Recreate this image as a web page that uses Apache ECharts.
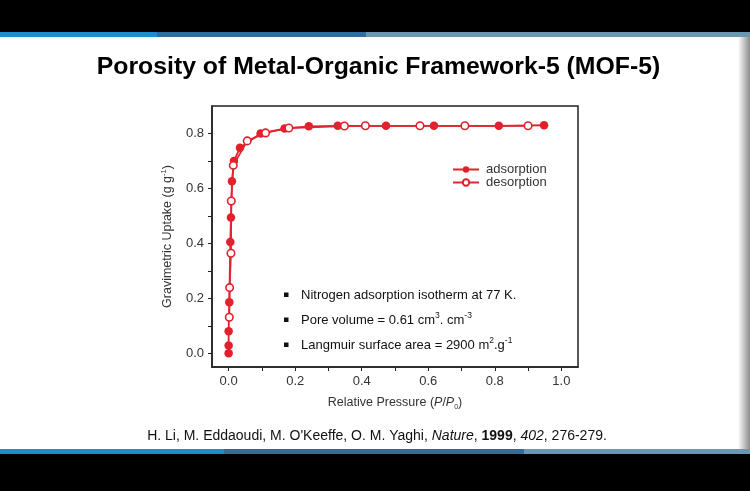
<!DOCTYPE html>
<html>
<head>
<meta charset="utf-8">
<script src="https://cdn.jsdelivr.net/npm/echarts@6/dist/echarts.min.js"></script>
<style>
  html, body { margin: 0; padding: 0; background: #000; }
  #wrap { position: relative; width: 750px; height: 491px; overflow: hidden; background: #000; }
  .bg { position: absolute; }
  #chart { position: absolute; left: 0; top: 0; width: 750px; height: 491px; }
</style>
</head>
<body>
<div id="wrap">
  <div class="bg" style="left:0;top:32px;width:157px;height:5px;background:#1b8ecb"></div>
  <div class="bg" style="left:157px;top:32px;width:209px;height:5px;background:#2e6e9e"></div>
  <div class="bg" style="left:366px;top:32px;width:384px;height:5px;background:#6a97b2"></div>
  <div class="bg" style="left:0;top:37px;width:750px;height:412px;background:#fff"></div>
  <div class="bg" style="left:738px;top:37px;width:12px;height:412px;background:linear-gradient(to right,#fff,#8c8c8c)"></div>
  <div class="bg" style="left:0;top:449px;width:224px;height:5px;background:#1b8ecb"></div>
  <div class="bg" style="left:224px;top:449px;width:300px;height:5px;background:#2e6e9e"></div>
  <div class="bg" style="left:524px;top:449px;width:226px;height:5px;background:#6a97b2"></div>
  <div id="chart"></div>
</div>
<script>
// ---- data ----
const adsorptionP = [0.000, 0.000, 0.000, 0.002, 0.005, 0.007, 0.010, 0.016, 0.034, 0.096, 0.168, 0.241, 0.328, 0.473, 0.617, 0.812, 0.948];
const adsorptionQ = [0.000, 0.028, 0.080, 0.186, 0.405, 0.494, 0.626, 0.700, 0.748, 0.800, 0.818, 0.826, 0.828, 0.828, 0.828, 0.828, 0.830];
const desorptionP = [0.900, 0.710, 0.575, 0.411, 0.348, 0.181, 0.111, 0.056, 0.014, 0.008, 0.007, 0.003, 0.002];
const desorptionQ = [0.828, 0.828, 0.828, 0.828, 0.827, 0.820, 0.802, 0.773, 0.684, 0.554, 0.364, 0.239, 0.131];
const xTicks = [0, 0.1, 0.2, 0.3, 0.4, 0.5, 0.6, 0.7, 0.8, 0.9, 1.0];
const xLabels = [0, 0.2, 0.4, 0.6, 0.8, 1.0];
const yTicks = [0, 0.1, 0.2, 0.3, 0.4, 0.5, 0.6, 0.7, 0.8];
const yLabels = [0, 0.2, 0.4, 0.6, 0.8];

const FONT = '"Liberation Sans", Arial, sans-serif';
const RED = '#e41f2b';
const AX = '#222';

const adsData = adsorptionP.map((p, i) => [p, adsorptionQ[i]]);
const desData = desorptionP.map((p, i) => [p, desorptionQ[i]]);

const chart = echarts.init(document.getElementById('chart'), null, { renderer: 'canvas' });

const bulletTexts = [
  { y: 295, text: '{a|Nitrogen adsorption isotherm at 77 K.}' },
  { y: 320, text: '{a|Pore volume = 0.61 cm}{s|3}{a|. cm}{s|-3}' },
  { y: 345, text: '{a|Langmuir surface area = 2900 m}{s|2}{a|.g}{s|-1}' }
];
const rich = {
  a: { fontSize: 13, fontFamily: FONT, fill: '#111', lineHeight: 17 },
  s: { fontSize: 8.5, fontFamily: FONT, fill: '#111', lineHeight: 17, verticalAlign: 'top' }
};
const graphics = [];
bulletTexts.forEach(b => {
  graphics.push({ type: 'rect', z: 100, shape: { x: 284, y: b.y - 2.5, width: 4.5, height: 4.5 }, style: { fill: '#111' } });
  graphics.push({ type: 'text', z: 100, x: 301, y: b.y, style: { text: b.text, rich: rich, verticalAlign: 'middle', align: 'left' } });
});
graphics.push({
  type: 'text', z: 100, x: 377, y: 436,
  style: {
    text: '{n|H. Li, M. Eddaoudi, M. O\'Keeffe, O. M. Yaghi, }{i|Nature}{n|, }{b|1999}{n|, }{i|402}{n|, 276-279.}',
    align: 'center', verticalAlign: 'middle',
    rich: {
      n: { fontSize: 14, fontFamily: FONT, fill: '#111' },
      i: { fontSize: 14, fontFamily: FONT, fill: '#111', fontStyle: 'italic' },
      b: { fontSize: 14, fontFamily: FONT, fill: '#111', fontWeight: 'bold' }
    }
  }
});
graphics.push({
  type: 'text', z: 100, x: 378.5, y: 67,
  style: {
    text: 'Porosity of Metal-Organic Framework-5 (MOF-5)',
    align: 'center', verticalAlign: 'middle',
    fontFamily: FONT, fontSize: 24.8, fontWeight: 'bold', fill: '#000'
  }
});

chart.setOption({
  backgroundColor: 'transparent',
  animation: false,
  grid: {
    left: 212, top: 106, right: 172, bottom: 124,
    show: true, borderColor: AX, borderWidth: 1.5, backgroundColor: 'transparent'
  },
  legend: {
    data: ['adsorption', 'desorption'],
    orient: 'vertical', left: 447, top: 158,
    itemWidth: 26, itemHeight: 8, itemGap: 0,
    textStyle: { fontFamily: FONT, fontSize: 13, color: '#333', lineHeight: 13, padding: [0, 0, 0, 2] }
  },
  xAxis: {
    type: 'value', min: -0.05, max: 1.05,
    name: '{t|Relative Pressure (}{i|P}{t|/}{i|P}{sub|0}{t|)}',
    nameLocation: 'middle', nameGap: 28,
    nameTextStyle: {
      rich: {
        t: { fontFamily: FONT, fontSize: 12.5, color: '#333', lineHeight: 16 },
        i: { fontFamily: FONT, fontSize: 12.5, color: '#333', fontStyle: 'italic', lineHeight: 16 },
        sub: { fontFamily: FONT, fontSize: 7, color: '#333', verticalAlign: 'bottom', lineHeight: 16 }
      }
    },
    axisLine: { show: true, onZero: false, lineStyle: { color: AX, width: 1.5 } },
    axisTick: { show: true, inside: false, length: 4, customValues: xTicks, lineStyle: { color: AX, width: 1 } },
    axisLabel: { customValues: xLabels, margin: 8, fontFamily: FONT, fontSize: 13, color: '#333', formatter: v => v.toFixed(1) },
    splitLine: { show: false }
  },
  yAxis: {
    type: 'value', min: -0.05, max: 0.9,
    name: '{t|Gravimetric Uptake (g g}{sup|-1}{t|)}',
    nameLocation: 'middle', nameGap: 36, nameRotate: 90,
    nameTextStyle: {
      rich: {
        t: { fontFamily: FONT, fontSize: 12.5, color: '#333', lineHeight: 16 },
        sup: { fontFamily: FONT, fontSize: 7.5, color: '#333', verticalAlign: 'top', lineHeight: 16 }
      }
    },
    axisLine: { show: true, onZero: false, lineStyle: { color: AX, width: 1.5 } },
    axisTick: { show: true, inside: false, length: 4, customValues: yTicks, lineStyle: { color: AX, width: 1 } },
    axisLabel: { customValues: yLabels, margin: 8, fontFamily: FONT, fontSize: 13, color: '#333', formatter: v => v.toFixed(1) },
    splitLine: { show: false }
  },
  series: [
    {
      name: 'adsorption', type: 'line', data: adsData,
      symbol: 'circle', symbolSize: 8.5, showSymbol: true,
      lineStyle: { color: RED, width: 1.8 },
      itemStyle: { color: RED, borderColor: RED, borderWidth: 0 },
      z: 3
    },
    {
      name: 'desorption', type: 'line', data: desData,
      symbol: 'circle', symbolSize: 7.5, showSymbol: true,
      lineStyle: { color: '#dc2835', width: 1.8 },
      itemStyle: { color: '#fff', borderColor: RED, borderWidth: 1.6 },
      z: 4
    }
  ],
  graphic: graphics
});
</script>
</body>
</html>
